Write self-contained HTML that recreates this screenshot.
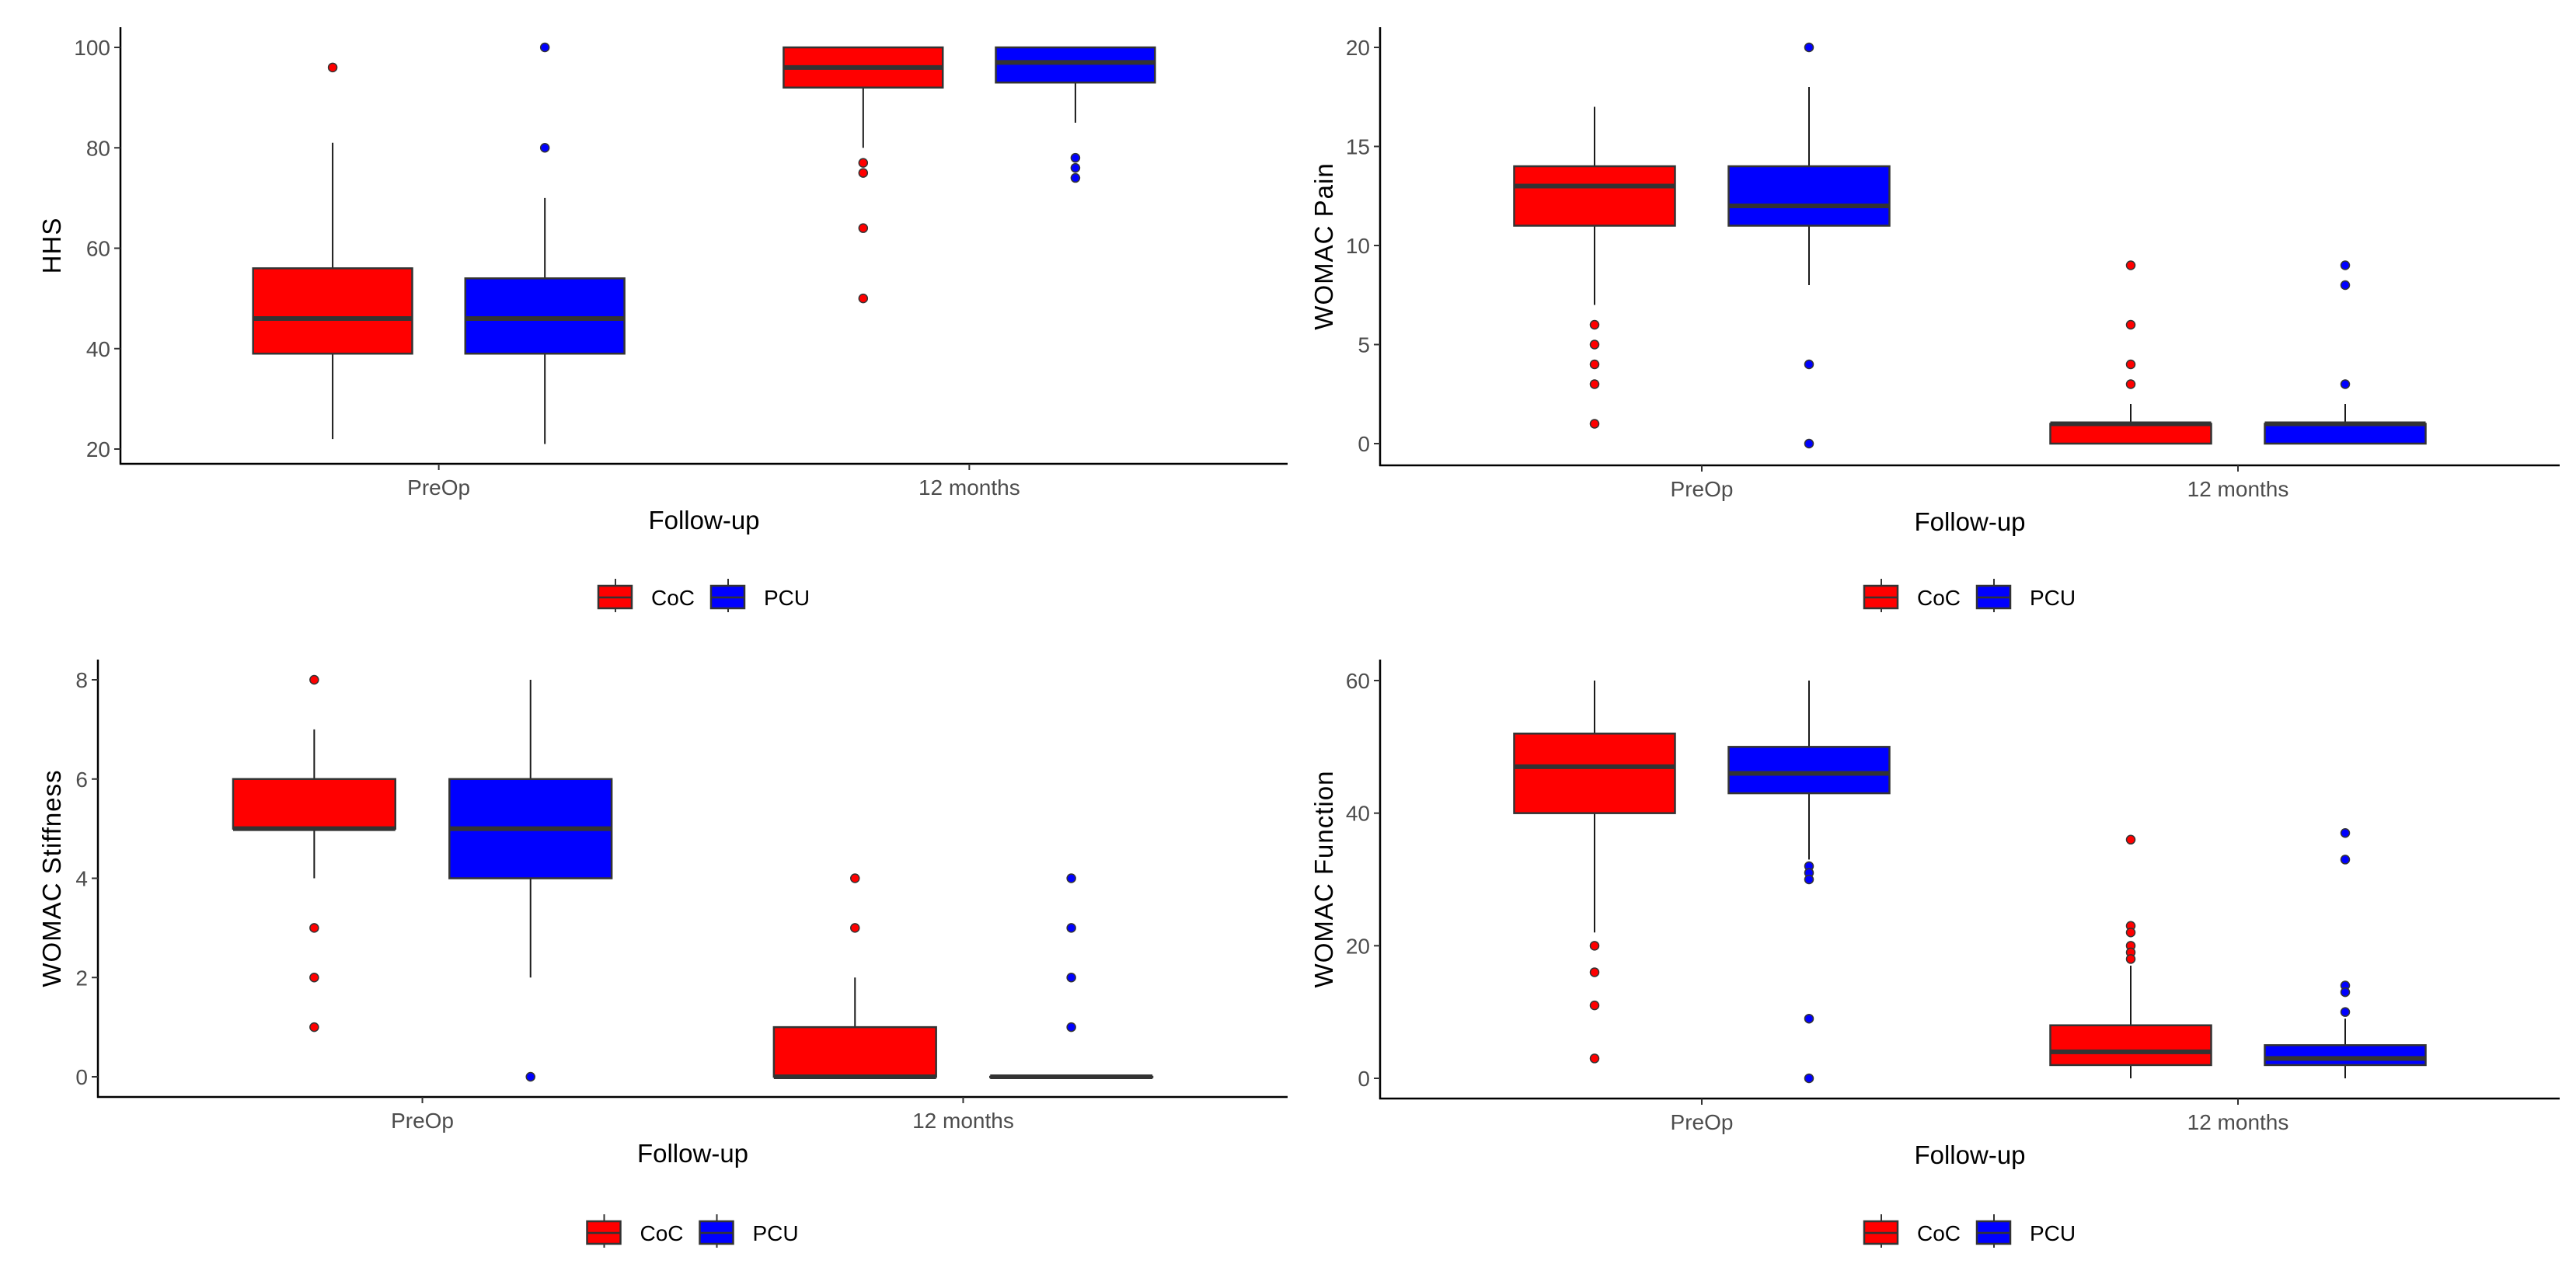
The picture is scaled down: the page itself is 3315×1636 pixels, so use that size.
<!DOCTYPE html>
<html><head><meta charset="utf-8"><style>
html,body{margin:0;padding:0;background:#fff;}
svg{display:block;font-family:"Liberation Sans",Arial,sans-serif;}
</style></head><body>
<svg id="chart" width="3315" height="1636" viewBox="0 0 3315 1636" xmlns="http://www.w3.org/2000/svg"></svg>
<script>
// ---- data ----
const categories = ["PreOp", "12 months"];
const groups = ["CoC", "PCU"];
const groupColors = ["#FF0000", "#0000FF"];
// stats per category: [lowWhisker, q1, median, q3, highWhisker]
const hhsCoC = [[22, 39, 46, 56, 81], [80, 92, 96, 100, 100]];
const hhsPCU = [[21, 39, 46, 54, 70], [85, 93, 97, 100, 100]];
const hhsOutCoC = [[96], [77, 75, 64, 50]];
const hhsOutPCU = [[80, 100], [78, 76, 74]];
const hhsTicks = [20, 40, 60, 80, 100];

const painCoC = [[7, 11, 13, 14, 17], [0, 0, 1, 1, 2]];
const painPCU = [[8, 11, 12, 14, 18], [0, 0, 1, 1, 2]];
const painOutCoC = [[6, 5, 4, 3, 1], [9, 6, 4, 3]];
const painOutPCU = [[20, 4, 0], [9, 8, 3]];
const painTicks = [0, 5, 10, 15, 20];

const stiffCoC = [[4, 5, 5, 6, 7], [0, 0, 0, 1, 2]];
const stiffPCU = [[2, 4, 5, 6, 8], [0, 0, 0, 0, 0]];
const stiffOutCoC = [[8, 3, 2, 1], [4, 3]];
const stiffOutPCU = [[0], [4, 3, 2, 1]];
const stiffTicks = [0, 2, 4, 6, 8];

const funcCoC = [[22, 40, 47, 52, 60], [0, 2, 4, 8, 17]];
const funcPCU = [[33, 43, 46, 50, 60], [0, 2, 3, 5, 9]];
const funcOutCoC = [[20, 16, 11, 3], [36, 23, 22, 20, 19, 18]];
const funcOutPCU = [[32, 31, 30, 9, 0], [37, 33, 14, 13, 10]];
const funcTicks = [0, 20, 40, 60];

const NS = "http://www.w3.org/2000/svg";
const svg = document.getElementById("chart");
function mk(tag, attrs, parent) {
  const e = document.createElementNS(NS, tag);
  for (const k in attrs) e.setAttribute(k, attrs[k]);
  (parent || svg).appendChild(e);
  return e;
}

const panels = [
  {name: "hhs", title: "HHS", stats: [hhsCoC, hhsPCU], outs: [hhsOutCoC, hhsOutPCU], ticks: hhsTicks,
   left: 155, right: 1657, top: 35, bottom: 597, t0: 20, y0: 578, t1: 100, y1: 61, ytx: 66, oy: 0},
  {name: "womac-pain", title: "WOMAC Pain", stats: [painCoC, painPCU], outs: [painOutCoC, painOutPCU], ticks: painTicks,
   left: 1776, right: 3294, top: 35, bottom: 599, t0: 0, y0: 571, t1: 20, y1: 61, ytx: 1703, oy: 0},
  {name: "womac-stiffness", title: "WOMAC Stiffness", stats: [stiffCoC, stiffPCU], outs: [stiffOutCoC, stiffOutPCU], ticks: stiffTicks,
   left: 126, right: 1657, top: 849, bottom: 1412, t0: 0, y0: 1386, t1: 8, y1: 875, ytx: 66, oy: 818},
  {name: "womac-function", title: "WOMAC Function", stats: [funcCoC, funcPCU], outs: [funcOutCoC, funcOutPCU], ticks: funcTicks,
   left: 1776, right: 3294, top: 849, bottom: 1414, t0: 0, y0: 1388, t1: 60, y1: 876, ytx: 1703, oy: 818}
];

panels.forEach(p => {
  const g = mk("g", {});
  
  
  const yS = v => p.y0 + (v - p.t0) * (p.y1 - p.y0) / (p.t1 - p.t0);
  const span = (p.right - p.left) / 2.2;
  const xS = i => p.left + (i + 0.6) * span; // category index
  // axes
  const ya = mk("line", {x1: p.left, y1: p.top, x2: p.left, y2: p.bottom + 1, stroke: "#000", "stroke-width": 2.5}, g);
  
  
  const xa = mk("line", {x1: p.left - 1, y1: p.bottom, x2: p.right, y2: p.bottom, stroke: "#000", "stroke-width": 2.5}, g);
  
  
  p.ticks.forEach(t => {
    const y = yS(t);
    mk("line", {x1: p.left - 8, y1: y, x2: p.left, y2: y, stroke: "#333", "stroke-width": 2}, g);
    const tx = mk("text", {x: p.left - 13, y: y + 10, "text-anchor": "end", "font-size": 28, fill: "#4d4d4d"}, g);
    tx.textContent = t;
    
    
  });
  categories.forEach((c, i) => {
    const x = xS(i);
    mk("line", {x1: x, y1: p.bottom, x2: x, y2: p.bottom + 8, stroke: "#333", "stroke-width": 2}, g);
    const tx = mk("text", {x: x, y: p.bottom + 40, "text-anchor": "middle", "font-size": 28, fill: "#4d4d4d"}, g);
    tx.textContent = c;
    
    
  });
  // boxes
  p.stats.forEach((ser, gi) => {
    ser.forEach((s, ci) => {
      const cx = xS(ci) + (gi === 0 ? -0.2 : 0.2) * span;
      const hw = 0.15 * span;
      const bg = mk("g", {}, g);
      
      
      mk("line", {x1: cx, y1: yS(s[0]), x2: cx, y2: yS(s[1]), stroke: "#1a1a1a", "stroke-width": 2}, bg);
      mk("line", {x1: cx, y1: yS(s[3]), x2: cx, y2: yS(s[4]), stroke: "#1a1a1a", "stroke-width": 2}, bg);
      mk("rect", {x: cx - hw, y: yS(s[3]), width: 2 * hw, height: Math.max(0.5, yS(s[1]) - yS(s[3])), fill: groupColors[gi], stroke: "#333", "stroke-width": 2.5}, bg);
      mk("line", {x1: cx - hw, y1: yS(s[2]), x2: cx + hw, y2: yS(s[2]), stroke: "#333", "stroke-width": 6}, bg);
      p.outs[gi][ci].forEach(o => {
        const pt = mk("circle", {cx: cx, cy: yS(o), r: 5.5, fill: groupColors[gi], stroke: "#333", "stroke-width": 1.5}, bg);
        
        
      });
    });
  });
  // titles
  const midX = (p.left + p.right) / 2;
  const xt = mk("text", {x: midX, y: p.bottom + 84, "text-anchor": "middle", "font-size": 33, fill: "#000"}, g);
  xt.textContent = "Follow-up";
  
  
  const midY = (p.top + p.bottom) / 2;
  const yt = mk("text", {x: p.ytx, y: midY, "text-anchor": "middle", "font-size": 33, fill: "#000", "letter-spacing": 1,
    transform: "rotate(-90 " + p.ytx + " " + midY + ") translate(0 12)"}, g);
  yt.textContent = p.title;
  
  
  // legend
  const lg = mk("g", {}, g);
  
  
  const ly = p.oy + 769;
  let lx = midX - 136;
  groups.forEach((gn, gi) => {
    const e = mk("g", {}, lg);
    
    
    mk("line", {x1: lx + 22, y1: ly - 24, x2: lx + 22, y2: ly + 19, stroke: "#333", "stroke-width": 2}, e);
    mk("rect", {x: lx, y: ly - 15, width: 43, height: 29, fill: groupColors[gi], stroke: "#333", "stroke-width": 2.5}, e);
    mk("line", {x1: lx, y1: ly, x2: lx + 43, y2: ly, stroke: "#333", "stroke-width": 2.5}, e);
    const t = mk("text", {x: lx + 68, y: ly + 10, "font-size": 28, fill: "#000"}, e);
    t.textContent = gn;
    lx += 145;
  });
});
</script>
</body></html>
